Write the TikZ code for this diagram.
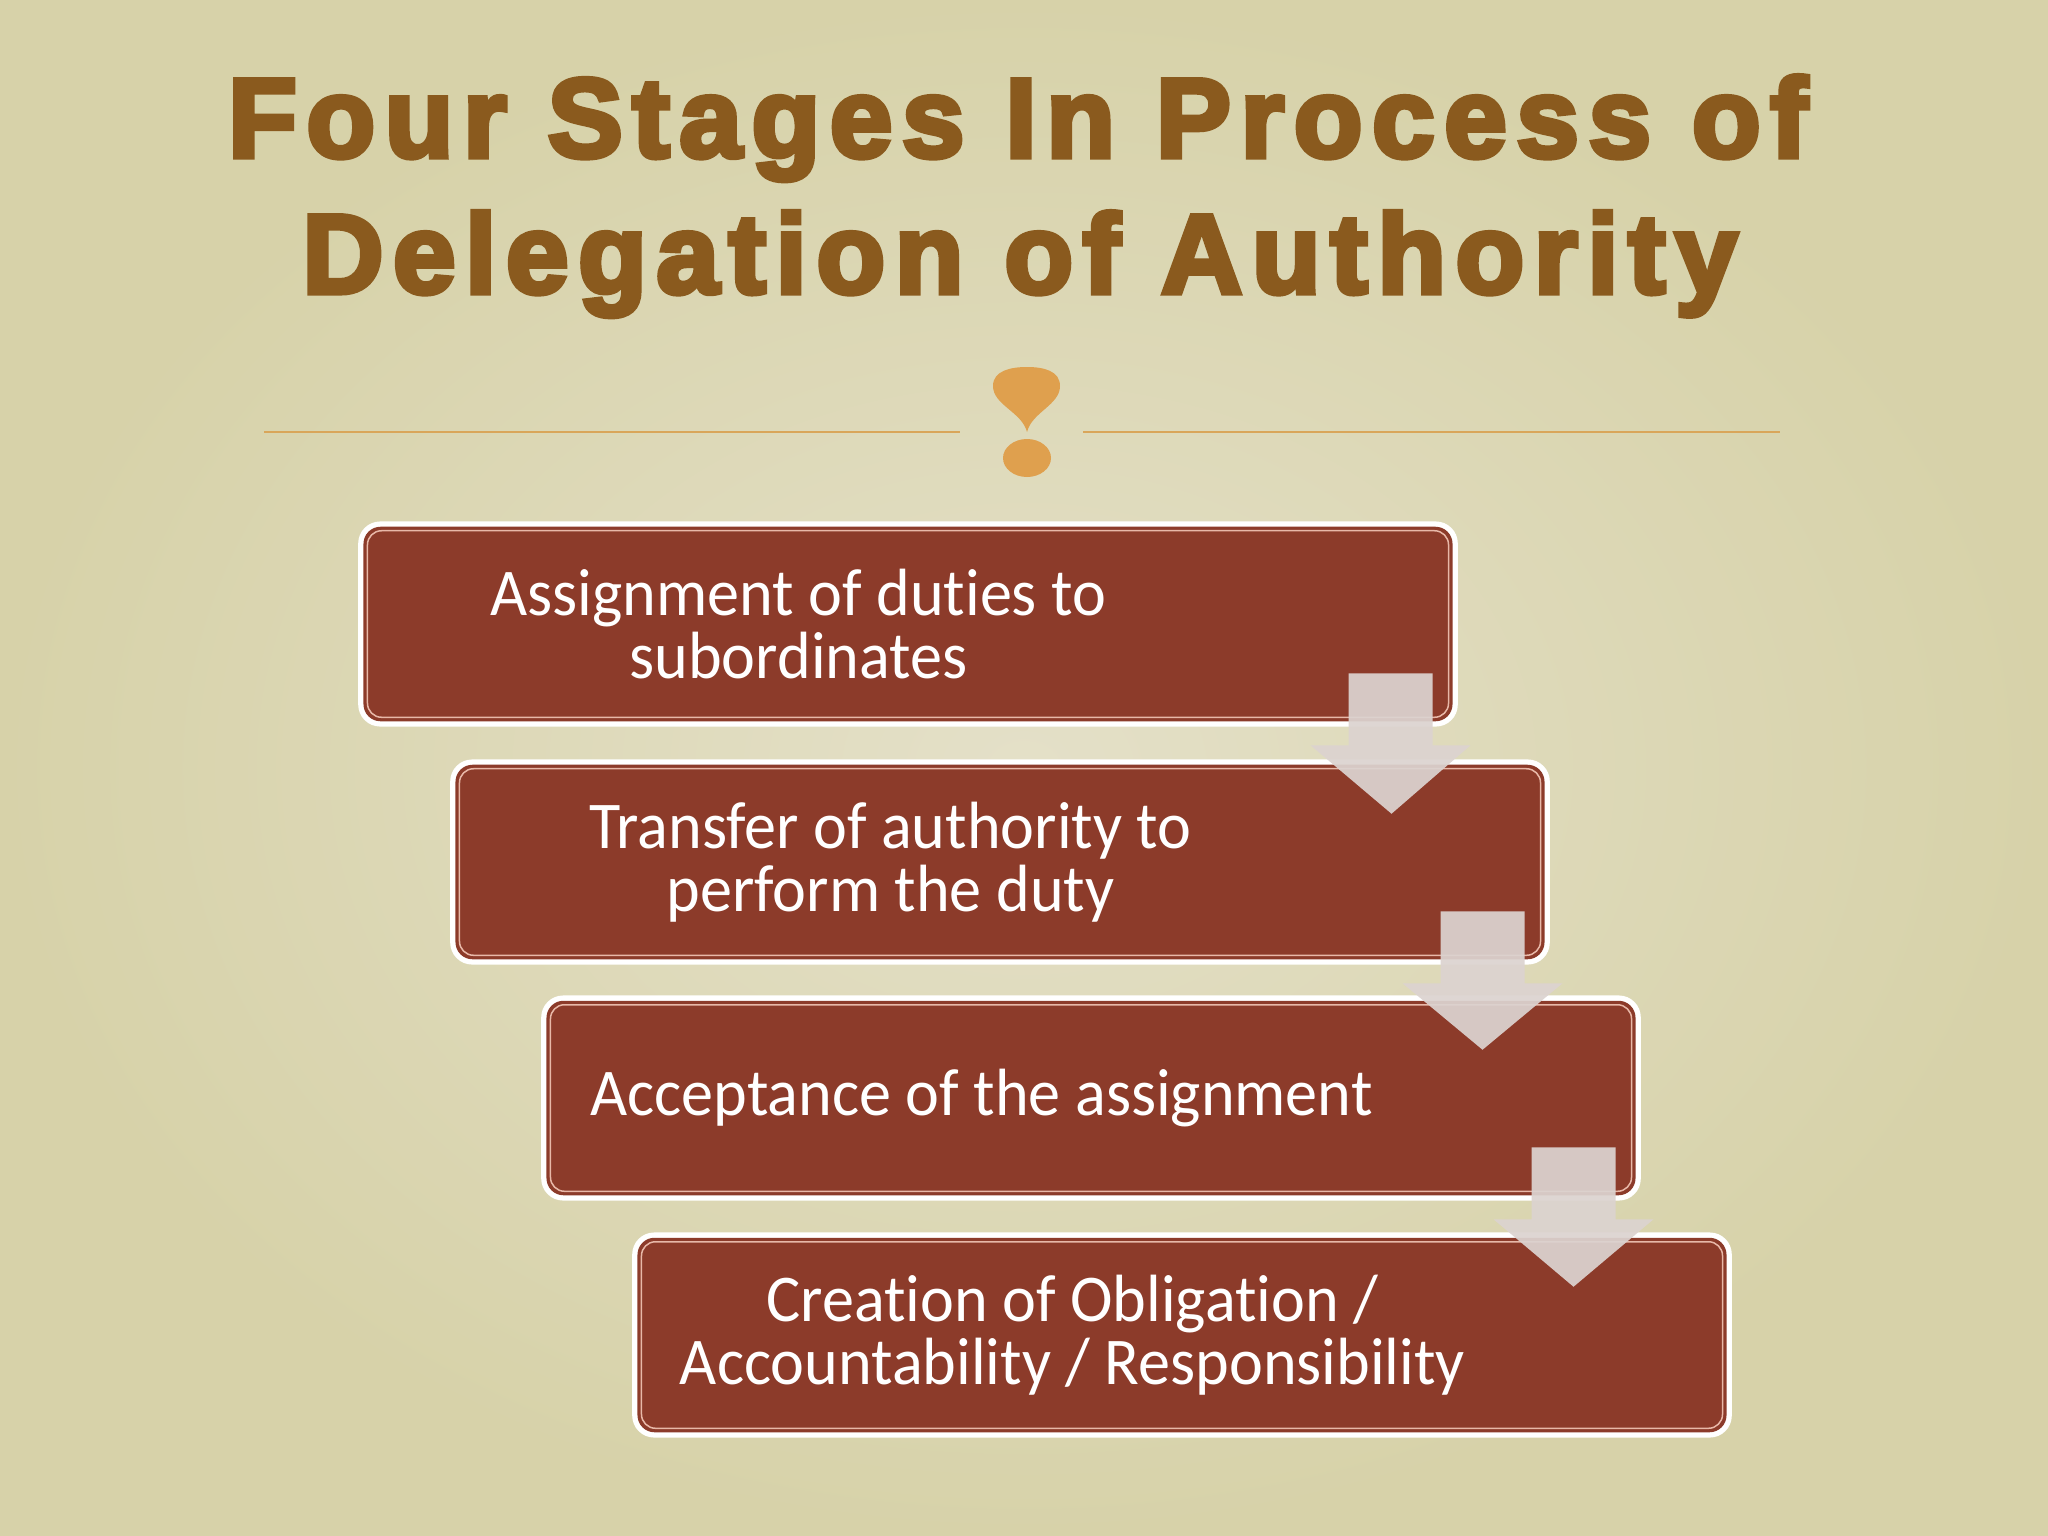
\documentclass[tikz,border=0pt]{standalone}
\usepackage{fontspec}
\usetikzlibrary{calc}
\newfontfamily\titlefont[FakeBold=4.5,LetterSpace=8.5]{Liberation Sans}
\newfontfamily\boxfont[Ligatures=NoCommon,FakeStretch=0.96]{Carlito}
\definecolor{bgin}{HTML}{E4E0C8}
\definecolor{bgout}{HTML}{D7D2A9}
\definecolor{titlebrown}{HTML}{8A5A1E}
\definecolor{ornament}{HTML}{DFA04E}
\definecolor{rule}{HTML}{D9A65A}
\definecolor{boxred}{HTML}{8C3B2A}
\definecolor{boxline}{HTML}{E8B8A8}
\definecolor{arrowfill}{HTML}{DCD3D0}
\begin{document}
\begin{tikzpicture}[x=0.01cm,y=-0.01cm,
  stagebox/.style={rectangle, fill=white, rounded corners=0.22cm, minimum width=10.99cm, minimum height=2.05cm, inner sep=0pt},
  stagetext/.style={text=white, font=\boxfont\fontsize{19}{17.9}\selectfont, align=center, inner sep=0pt},
  titletext/.style={text=titlebrown, font=\titlefont\bfseries\fontsize{32}{38}\selectfont, inner sep=0pt},
  blockarrow/.style={fill=arrowfill, fill opacity=0.93, draw=none}]
\useasboundingbox (0,0) rectangle (2048,1536);
\shade[inner color=bgin, outer color=bgout] (0,0) rectangle (2048,1536);

% title
\node[titletext, anchor=base] (title1) at (1018,157) {Four Stages In Process of};
\node[titletext, anchor=base] (title2) at (1020,293) {Delegation of Authority};

% ornament
\draw[rule, line width=0.02cm] (264,432) -- (960,432);
\draw[rule, line width=0.02cm] (1083,432) -- (1780,432);
\fill[ornament] (1027,432) .. controls (1022,412) and (993,405) .. (993,386)
  .. controls (993,371) and (1010,367) .. (1027,367)
  .. controls (1044,367) and (1060,371) .. (1060,386)
  .. controls (1060,405) and (1032,412) .. cycle;
\fill[ornament] (1027,458) ellipse [x radius=24, y radius=19];

% boxes
\foreach \i/\x/\y in {1/908/624, 2/1000/862, 3/1091/1098, 4/1182/1335}{
  \node[stagebox] (b\i) at (\x,\y) {};
  \fill[boxred, rounded corners=0.17cm] ($(b\i.north west)+(6,6)$) rectangle ($(b\i.south east)+(-6,-6)$);
  \draw[boxline, line width=0.015cm, rounded corners=0.14cm] ($(b\i.north west)+(10,10)$) rectangle ($(b\i.south east)+(-10,-10)$);
}

% texts
\node[stagetext] (t1) at ($(b1.west)+(441,0)$) {Assignment of duties to\\subordinates};
\node[stagetext] (t2) at ($(b2.west)+(441,0)$) {Transfer of authority to\\perform the duty};
\node[stagetext] (t3) at ($(b3.west)+(441,0)$) {Acceptance of the assignment};
\node[stagetext] (t4) at ($(b4.west)+(441,0)$) {Creation of Obligation /\\Accountability / Responsibility};

% arrows
\foreach \a/\b in {1/2, 2/3, 3/4}{
  \coordinate (top\a) at ($(b\a.south east)+(-68,-54)$);
  \coordinate (base\a) at ($(b\a.south east)+(-68,18)$);
  \coordinate (tip\a) at ($(b\b.north east)+(-159,55)$);
  \path[blockarrow] ($(top\a)+(-42,0)$) -- ($(top\a)+(42,0)$) -- ($(base\a)+(42,0)$)
    -- ($(base\a)+(80,0)$) -- (tip\a) -- ($(base\a)+(-80,0)$) -- ($(base\a)+(-42,0)$) -- cycle;
}
\end{tikzpicture}
\end{document}
